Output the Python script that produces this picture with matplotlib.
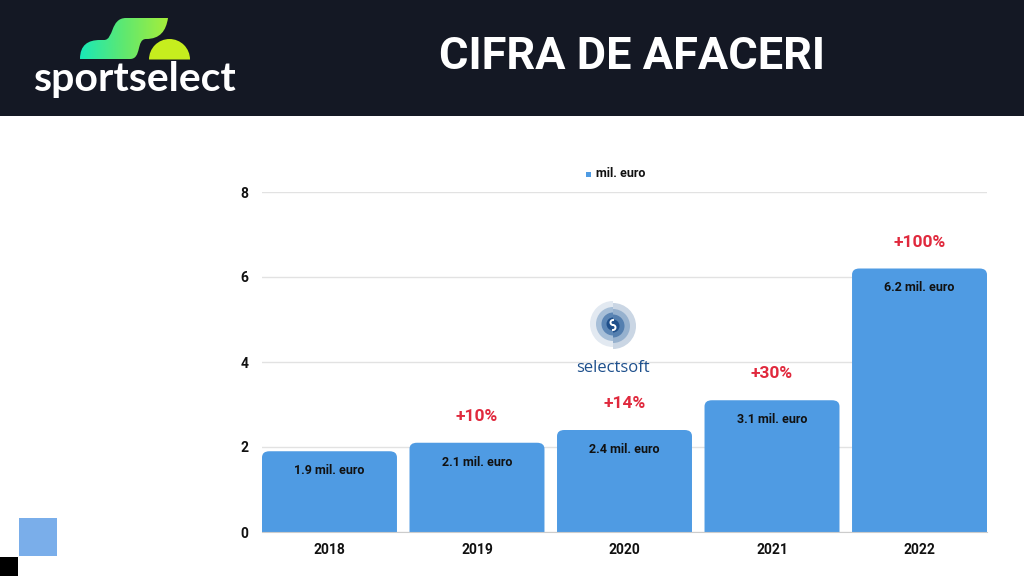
import numpy as np
import matplotlib.pyplot as plt
from matplotlib.patches import Rectangle, FancyBboxPatch, PathPatch, Wedge
from matplotlib.path import Path
from matplotlib.colors import LinearSegmentedColormap

# chart data
years = ["2018", "2019", "2020", "2021", "2022"]
revenue = [1.9, 2.1, 2.4, 3.1, 6.2]
growth = ["", "+10%", "+14%", "+30%", "+100%"]
yticks = [0, 2, 4, 6, 8]

title = "CIFRA DE AFACERI"
unit = "mil. euro"

BAR = "#4f9be3"
RED = "#e0293d"
HEADER = "#141824"

W, H = 1024, 576
fig = plt.figure(figsize=(W / 100, H / 100), dpi=100)
fig.patch.set_facecolor("white")

# background layer in pixel coordinates (y down)
bg = fig.add_axes([0, 0, 1, 1], zorder=0)
bg.axis("off")
bg.add_patch(Rectangle((0, 0), W, 116, color=HEADER, lw=0))
bg.add_patch(Rectangle((19, 518), 38, 38, color="#7aaeea", lw=0))
bg.add_patch(Rectangle((0, 557), 18, 19, color="black", lw=0))

# sportselect logo: gradient S + lime half disc
verts = [(80, 59),
         (80, 45), (88, 40), (100, 40),
         (104, 40),
         (114, 40), (110, 18), (126, 18),
         (168, 18),
         (166, 31), (160, 39), (146, 39),
         (136, 39), (142, 59), (130, 59),
         (80, 59)]
codes = [Path.MOVETO,
         Path.CURVE4, Path.CURVE4, Path.CURVE4,
         Path.LINETO,
         Path.CURVE4, Path.CURVE4, Path.CURVE4,
         Path.LINETO,
         Path.CURVE4, Path.CURVE4, Path.CURVE4,
         Path.CURVE4, Path.CURVE4, Path.CURVE4,
         Path.CLOSEPOLY]
s_patch = PathPatch(Path(verts, codes), facecolor="none", edgecolor="none")
bg.add_patch(s_patch)
grad = np.linspace(0, 1, 256).reshape(1, -1)
cmap = LinearSegmentedColormap.from_list("sg", ["#19e8b8", "#5fe870", "#a6ee3a"])
im = bg.imshow(grad, cmap=cmap, extent=(80, 168, 59, 18), aspect="auto", zorder=1)
im.set_clip_path(s_patch)
bg.set_xlim(0, W)
bg.set_ylim(H, 0)
bg.add_patch(Wedge((169.5, 59.5), 20.5, 180, 360, color="#c6ee1e", lw=0))
bg.text(34, 80, "sportselect", color="white", fontsize=29.5, fontfamily="Lato",
        fontweight="bold", va="center", ha="left")

fig.text(632 / W, 1 - 57 / H, title, color="white", fontsize=32.5,
         fontfamily="Roboto", fontweight="bold", ha="center", va="center")

# main chart
ax = fig.add_axes([262 / W, 1 - 532 / H, 725 / W, 340 / H], zorder=1)
ax.set_facecolor("none")
x = np.arange(len(years))
bars = ax.bar(x, revenue, width=0.915, color=BAR, zorder=2)
ax.set_xlim(-0.4575, len(years) - 1 + 0.4575)
ax.set_ylim(0, 8)

# swap bars for rounded-top versions
for b in bars:
    b.set_visible(False)
    rb = FancyBboxPatch((b.get_x(), -0.5), b.get_width(), b.get_height() + 0.5,
                        boxstyle="round,pad=0,rounding_size=0.05",
                        mutation_aspect=2.9, facecolor=BAR, edgecolor="none",
                        zorder=2, clip_on=True)
    ax.add_patch(rb)

for xi, v, g in zip(x, revenue, growth):
    ax.annotate(f"{v} {unit}", (xi, v), xytext=(0, -14), textcoords="offset points",
                ha="center", va="center", fontsize=9, fontweight="bold",
                fontfamily="Roboto", color="#111111", zorder=3)
    if g:
        ax.annotate(g, (xi, v), xytext=(0, 19), textcoords="offset points",
                    ha="center", va="center", fontsize=12.5, fontweight="bold",
                    fontfamily="Roboto", color=RED, zorder=3)

ax.set_xticks(x)
ax.set_xticklabels(years)
ax.set_yticks(yticks)
ax.yaxis.grid(True, color="#e2e2e2", lw=1)
ax.set_axisbelow(True)
for s in ["top", "right", "left"]:
    ax.spines[s].set_visible(False)
ax.spines["bottom"].set_color("#cccccc")
ax.tick_params(length=0, labelsize=10, pad=10)
ax.tick_params(axis="x", pad=8)
for lab in ax.get_xticklabels() + ax.get_yticklabels():
    lab.set_fontweight("bold")
    lab.set_fontfamily("Roboto")
    lab.set_color("#111111")

# legend
fig.text(596 / W, 1 - 174 / H, unit, fontsize=9, fontweight="bold",
         fontfamily="Roboto", color="#111111", ha="left", va="center")
bg.add_patch(Rectangle((585.5, 171.5), 5, 5, color=BAR, lw=0))

# selectsoft logo overlay
ov = fig.add_axes([0, 0, 1, 1], zorder=3)
ov.set_xlim(0, W)
ov.set_ylim(H, 0)
ov.axis("off")
cx, cy = 613, 325
for r, c in [(23, "#e2e9f1"), (17, "#a7bfd8"), (11.5, "#5c86b5"), (6.5, "#1f4f8a")]:
    ov.add_patch(Wedge((cx, cy - 1), r, 90, 270, color=c, lw=0))
    ov.add_patch(Wedge((cx, cy + 1), r, 270, 90, color=c, lw=0))
ov.add_patch(Wedge((cx, cy + 1), 23, 270, 90, color="#1f4f8a", alpha=0.12, lw=0))
t = np.linspace(0, np.pi, 30)
ov.plot(cx - 2.5 * np.sin(t), cy - 2.5 - 2.5 * np.cos(t), color="white", lw=1.4)
ov.plot(cx + 2.5 * np.sin(t), cy + 2.5 - 2.5 * np.cos(t), color="white", lw=1.4)
ov.text(cx, 368, "selectsoft", color="#1d4f8c", fontsize=12, fontfamily="Open Sans",
        ha="center", va="center")

fig.savefig("out.png", dpi=100)
